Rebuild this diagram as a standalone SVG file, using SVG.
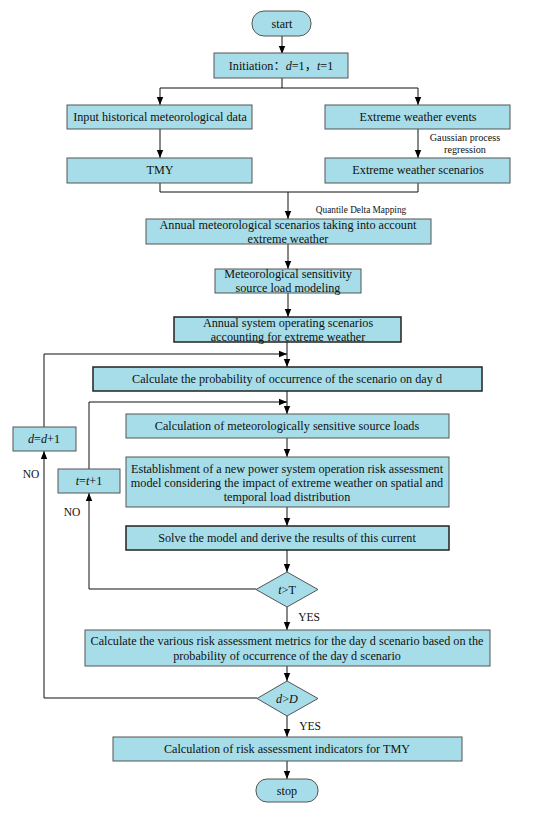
<svg xmlns="http://www.w3.org/2000/svg" width="550" height="815" viewBox="0 0 550 815">
<defs>
<marker id="ah" viewBox="0 0 10 10" refX="10" refY="5" markerWidth="8" markerHeight="8" markerUnits="userSpaceOnUse" orient="auto">
<path d="M0,1 L10,5 L0,9 z" fill="#000"/>
</marker>
<style>
.box{fill:#A6DDE8;stroke:#555;stroke-width:1}
.tbox{fill:#A6DDE8;stroke:#222;stroke-width:1.5}
.t{font-family:"Liberation Serif","Times New Roman","Noto Sans CJK SC",serif;font-size:12.2px;fill:#111;text-anchor:middle}
.s{font-family:"Liberation Serif","Times New Roman",serif;font-size:10.2px;fill:#111;text-anchor:middle}
.l{font-family:"Liberation Serif","Times New Roman",serif;font-size:11.5px;fill:#111;text-anchor:middle}
.c{fill:none;stroke:#111;stroke-width:1}
.ca{fill:none;stroke:#111;stroke-width:1;marker-end:url(#ah)}
</style>
</defs>
<rect width="550" height="815" fill="#fff"/>
<g id="connectors">
<path class="ca" d="M282,36 V54"/>
<path class="c" d="M282,78 V88 M160,88 H418"/>
<path class="ca" d="M160,88 V105"/>
<path class="ca" d="M418,88 V105"/>
<path class="ca" d="M160,129 V158"/>
<path class="ca" d="M418,129 V158"/>
<path class="c" d="M160,183 V192 H418 V183"/>
<path class="ca" d="M288,192 V219"/>
<path class="ca" d="M288,244 V269"/>
<path class="ca" d="M288,293 V317"/>
<path class="ca" d="M287,342 V367"/>
<path class="ca" d="M287,391 V414"/>
<path class="ca" d="M287,438 V457"/>
<path class="ca" d="M287,507 V526"/>
<path class="ca" d="M287,550 V572"/>
<path class="ca" d="M287,607 V630"/>
<path class="ca" d="M287,666 V681"/>
<path class="ca" d="M287,716 V737"/>
<path class="ca" d="M287,761 V779"/>
<path class="ca" d="M256,589 H89 V493"/>
<path class="ca" d="M89,469 V402 H287"/>
<path class="ca" d="M257,698 H44 V451"/>
<path class="ca" d="M44,427 V354 H287"/>
</g>
<g id="start"><rect class="box" x="252" y="11" width="59" height="25" rx="12"/><text class="t" x="282" y="28">start</text></g>
<g id="init"><rect class="box" x="214" y="53" width="134" height="25"/><text class="t" x="281" y="70">Initiation：<tspan font-style="italic">d</tspan>=1，<tspan font-style="italic">t</tspan>=1</text></g>
<g id="input"><rect class="box" x="67" y="105" width="185" height="24"/><text class="t" x="160" y="121">Input historical meteorological data</text></g>
<g id="events"><rect class="box" x="325" y="105" width="185" height="24"/><text class="t" x="418" y="121">Extreme weather events</text></g>
<g id="tmy"><rect class="box" x="67" y="158" width="185" height="25"/><text class="t" x="160" y="174">TMY</text></g>
<g id="scen"><rect class="box" x="325" y="158" width="185" height="25"/><text class="t" x="418" y="174">Extreme weather scenarios</text></g>
<g id="gpr"><text class="s" x="465" y="141">Gaussian process</text><text class="s" x="465" y="153">regression</text></g>
<g id="qdm"><text class="s" x="361" y="213" style="font-size:9.3px">Quantile Delta Mapping</text></g>
<g id="annual"><rect class="box" x="146" y="219" width="285" height="25"/><text class="t" x="288" y="229">Annual meteorological scenarios taking into account</text><text class="t" x="288" y="243">extreme weather</text></g>
<g id="sens"><rect class="box" x="215" y="269" width="146" height="24"/><text class="t" x="288" y="278">Meteorological sensitivity</text><text class="t" x="288" y="292">source load modeling</text></g>
<g id="sys"><rect class="tbox" x="174" y="317" width="227" height="25"/><text class="t" x="288" y="327">Annual system operating scenarios</text><text class="t" x="288" y="341">accounting for extreme weather</text></g>
<g id="prob"><rect class="tbox" x="93" y="367" width="389" height="24"/><text class="t" x="287" y="383">Calculate the probability of occurrence of the scenario on day d</text></g>
<g id="dinc"><rect class="box" x="13" y="427" width="63" height="24"/><text class="t" x="44" y="443"><tspan font-style="italic">d</tspan>=<tspan font-style="italic">d</tspan>+1</text></g>
<g id="loads"><rect class="box" x="126" y="414" width="323" height="24"/><text class="t" x="287" y="430">Calculation of meteorologically sensitive source loads</text></g>
<g id="tinc"><rect class="box" x="58" y="469" width="62" height="24"/><text class="t" x="89" y="485"><tspan font-style="italic">t</tspan>=<tspan font-style="italic">t</tspan>+1</text></g>
<g id="model"><rect class="box" x="126" y="457" width="323" height="50"/><text class="t" x="287" y="473">Establishment of a new power system operation risk assessment</text><text class="t" x="287" y="487">model considering the impact of extreme weather on spatial and</text><text class="t" x="287" y="501">temporal load distribution</text></g>
<g id="solve"><rect class="tbox" x="126" y="526" width="323" height="24"/><text class="t" x="287" y="542">Solve the model and derive the results of this current</text></g>
<g id="dt"><path class="box" d="M287,572 L318,589.5 L287,607 L256,589.5 z"/><text class="t" x="287" y="594"><tspan font-style="italic">t</tspan>&gt;T</text></g>
<g id="metrics"><rect class="box" x="85" y="630" width="405" height="36"/><text class="t" x="287" y="645">Calculate the various risk assessment metrics for the day d scenario based on the</text><text class="t" x="287" y="660">probability of occurrence of the day d scenario</text></g>
<g id="dd"><path class="box" d="M287,681 L318,698.5 L287,716 L257,698.5 z"/><text class="t" x="287" y="703"><tspan font-style="italic">d</tspan>&gt;<tspan font-style="italic">D</tspan></text></g>
<g id="final"><rect class="box" x="113" y="737" width="349" height="24"/><text class="t" x="287" y="753">Calculation of risk assessment indicators for TMY</text></g>
<g id="stop"><rect class="box" x="256" y="779" width="62" height="23" rx="11"/><text class="t" x="287" y="795">stop</text></g>
<g id="labels">
<text class="l" x="309" y="621">YES</text>
<text class="l" x="310" y="730">YES</text>
<text class="l" x="31" y="478">NO</text>
<text class="l" x="72" y="516">NO</text>
</g>
</svg>
